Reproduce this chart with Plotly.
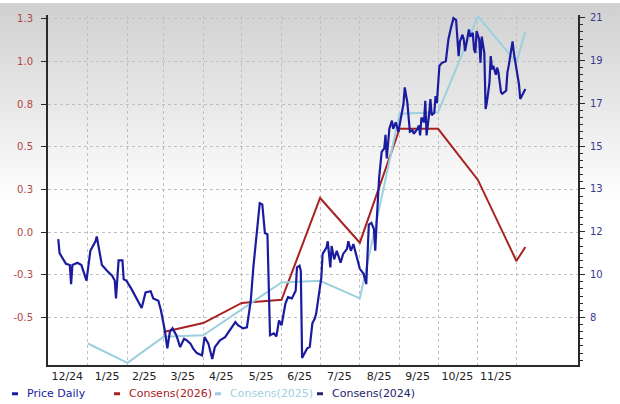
import base64
import plotly.graph_objects as go

# ---------------- data ----------------
price_dates = [
    "2024-12-09", "2024-12-10", "2024-12-15", "2024-12-18", "2024-12-19", "2024-12-20",
    "2024-12-24", "2024-12-27", "2024-12-31",
    "2025-01-03", "2025-01-07", "2025-01-08", "2025-01-10", "2025-01-12", "2025-01-16",
    "2025-01-20", "2025-01-22", "2025-01-23", "2025-01-25", "2025-01-28", "2025-01-29", "2025-01-31",
    "2025-02-04", "2025-02-08", "2025-02-12", "2025-02-15", "2025-02-19", "2025-02-21",
    "2025-02-25", "2025-02-27",
    "2025-03-02", "2025-03-04", "2025-03-06", "2025-03-08", "2025-03-11", "2025-03-14",
    "2025-03-17", "2025-03-19", "2025-03-22", "2025-03-24", "2025-03-27", "2025-03-31",
    "2025-04-02", "2025-04-05", "2025-04-08", "2025-04-10", "2025-04-14", "2025-04-18",
    "2025-04-22", "2025-04-26", "2025-04-28",
    "2025-05-02", "2025-05-05", "2025-05-08", "2025-05-10", "2025-05-12", "2025-05-15",
    "2025-05-17", "2025-05-19", "2025-05-21", "2025-05-23", "2025-05-26", "2025-05-28", "2025-05-30",
    "2025-06-01", "2025-06-04", "2025-06-06", "2025-06-09", "2025-06-12", "2025-06-13",
    "2025-06-15", "2025-06-16", "2025-06-17", "2025-06-21", "2025-06-23", "2025-06-25",
    "2025-06-27", "2025-06-28", "2025-06-30",
    "2025-07-02", "2025-07-03", "2025-07-06", "2025-07-07", "2025-07-09", "2025-07-10",
    "2025-07-12", "2025-07-14", "2025-07-17", "2025-07-19", "2025-07-22", "2025-07-23",
    "2025-07-25", "2025-07-27", "2025-07-30",
    "2025-08-01", "2025-08-04", "2025-08-06", "2025-08-08", "2025-08-10", "2025-08-12",
    "2025-08-13", "2025-08-14", "2025-08-16", "2025-08-18", "2025-08-20", "2025-08-21",
    "2025-08-22", "2025-08-24", "2025-08-26", "2025-08-27", "2025-08-29", "2025-08-31",
    "2025-09-04", "2025-09-05", "2025-09-07", "2025-09-09", "2025-09-11", "2025-09-12",
    "2025-09-15", "2025-09-16", "2025-09-17", "2025-09-18", "2025-09-20", "2025-09-21",
    "2025-09-22", "2025-09-24", "2025-09-25", "2025-09-26", "2025-09-28", "2025-09-29", "2025-09-30",
    "2025-10-02", "2025-10-04", "2025-10-07", "2025-10-08", "2025-10-09", "2025-10-11",
    "2025-10-12", "2025-10-13", "2025-10-15", "2025-10-16", "2025-10-17", "2025-10-18",
    "2025-10-20", "2025-10-21", "2025-10-22", "2025-10-24", "2025-10-25", "2025-10-26",
    "2025-10-28", "2025-10-29", "2025-10-30", "2025-10-31",
    "2025-11-02", "2025-11-03", "2025-11-04", "2025-11-06", "2025-11-07", "2025-11-08",
    "2025-11-10", "2025-11-11", "2025-11-12", "2025-11-13", "2025-11-15", "2025-11-16",
    "2025-11-17", "2025-11-19", "2025-11-20", "2025-11-23", "2025-11-24", "2025-11-25",
    "2025-11-26", "2025-11-28", "2025-11-29", "2025-11-30",
    "2025-12-02", "2025-12-03", "2025-12-04", "2025-12-06", "2025-12-07", "2025-12-08",
]
price_values = [
    11.29, 10.70, 10.25, 10.20, 9.40, 10.20, 10.30, 10.20, 9.55,
    10.80, 11.20, 11.40, 10.80, 10.20, 9.96, 9.75, 9.55, 8.80, 10.40, 10.40, 9.60, 9.55,
    9.20, 8.80, 8.40, 9.05, 9.10, 8.80, 8.70, 8.30,
    7.46, 6.70, 7.40, 7.54, 7.25, 6.75, 7.10, 7.04, 6.90, 6.70, 6.50, 6.40,
    7.17, 6.90, 6.25, 6.75, 7.04, 7.17, 7.46, 7.80, 7.67,
    7.54, 7.58, 8.70, 10.10, 11.20, 12.80, 12.75, 11.55, 11.50, 7.25, 7.33, 7.20, 7.87,
    7.67, 8.58, 8.85, 8.80, 9.12, 10.10, 10.17, 9.96, 6.30, 6.70, 6.76, 7.75, 7.96, 8.17, 8.85,
    9.68, 10.67, 10.93, 11.20, 10.10, 11.00, 10.44, 10.80, 10.30, 10.67, 10.88, 11.20,
    10.80, 11.08, 10.38,
    10.04, 9.83, 9.40, 11.90, 11.97, 11.70, 10.80, 11.90, 13.85, 14.96, 15.10, 15.67,
    14.68, 15.93, 16.27, 15.93, 16.20, 15.80,
    16.97, 17.67, 17.04, 15.80, 15.86, 15.72, 15.93, 16.07, 15.65, 16.40, 16.20, 17.10,
    15.65, 16.55, 17.18, 16.50, 16.60, 17.30, 17.00,
    18.57, 18.70, 18.77, 19.12, 19.68, 20.17, 20.37, 20.58, 20.50, 19.80, 18.98, 19.60,
    19.88, 19.68, 19.19, 19.80, 20.10, 19.80, 19.96, 19.26, 19.12, 20.03,
    19.68, 18.70, 19.80, 19.12, 16.76, 17.04, 17.87, 18.98, 18.42, 18.57, 18.20, 18.50,
    18.30, 17.46, 17.40, 17.53, 18.30, 18.57, 18.98, 19.60, 19.12, 18.77,
    18.00, 17.80, 17.18, 17.40, 17.53, 17.60,
]

cons2026_dates = ["2025-03-01", "2025-04-01", "2025-05-01", "2025-06-01", "2025-07-01",
                  "2025-08-01", "2025-09-01", "2025-10-01", "2025-11-01", "2025-12-01", "2025-12-08"]
cons2026_values = [-0.585, -0.533, -0.415, -0.397, 0.200, -0.062, 0.606, 0.606, 0.306, -0.169, -0.087]

cons2025_dates = ["2025-01-01", "2025-02-01", "2025-03-01", "2025-04-01", "2025-06-01",
                  "2025-07-01", "2025-08-01", "2025-09-01", "2025-10-01", "2025-11-01",
                  "2025-12-01", "2025-12-08"]
cons2025_values = [-0.653, -0.766, -0.614, -0.605, -0.295, -0.285, -0.388, 0.694, 0.703,
                   1.266, 0.994, 1.178]

cons2024_dates = []
cons2024_values = []

month_starts = ["2025-01-01", "2025-02-01", "2025-03-01", "2025-04-01", "2025-05-01", "2025-06-01",
                "2025-07-01", "2025-08-01", "2025-09-01", "2025-10-01", "2025-11-01", "2025-12-01"]
month_label_pos = ["2024-12-16", "2025-01-16", "2025-02-14", "2025-03-16", "2025-04-15", "2025-05-16",
                   "2025-06-15", "2025-07-16", "2025-08-16", "2025-09-15", "2025-10-16", "2025-11-15"]
month_labels = ["12/24", "1/25", "2/25", "3/25", "4/25", "5/25", "6/25", "7/25", "8/25",
                "9/25", "10/25", "11/25"]

eps_tickvals = [-0.5, -0.25, 0.0, 0.25, 0.5, 0.75, 1.0, 1.25]
eps_ticktext = ["-0.5", "-0.3", "0.0", "0.3", "0.5", "0.8", "1.0", "1.3"]
price_tickvals = [8.0, 9.8, 11.6, 13.4, 15.2, 17.0, 18.8, 20.6]
price_ticktext = ["8", "10", "12", "13", "15", "17", "19", "21"]

# ---------------- styles ----------------
C_PRICE = "#1b1ba0"
C_2026 = "#a82222"
C_2025 = "#9cd0de"
C_2024 = "#23236e"
FONT = "DejaVu Sans"
GRID_DASH = "3px,3px"

W, H = 620, 404
ML, MR, MT, MB = 48, 42, 12, 39
PW, PH = W - ML - MR, H - MT - MB

fig = go.Figure()
fig.add_trace(go.Scatter(x=price_dates, y=price_values, name="Price Daily", mode="lines",
                         line=dict(color=C_PRICE, width=2.2), yaxis="y2", showlegend=False))
fig.add_trace(go.Scatter(x=cons2026_dates, y=cons2026_values, name="Consens(2026)", mode="lines",
                         line=dict(color=C_2026, width=2), showlegend=False))
fig.add_trace(go.Scatter(x=cons2025_dates, y=cons2025_values, name="Consens(2025)", mode="lines",
                         line=dict(color=C_2025, width=2), showlegend=False))
fig.add_trace(go.Scatter(x=cons2024_dates, y=cons2024_values, name="Consens(2024)", mode="lines",
                         line=dict(color=C_2024, width=2), showlegend=False))

# background gradient
svg = ('<svg xmlns="http://www.w3.org/2000/svg" width="620" height="404">'
       '<defs><linearGradient id="g" x1="0" y1="0" x2="0" y2="1">'
       '<stop offset="0" stop-color="#d0d0d0"/><stop offset="0.5" stop-color="#ffffff"/>'
       '</linearGradient></defs><rect width="620" height="404" fill="url(#g)"/></svg>')
src = "data:image/svg+xml;base64," + base64.b64encode(svg.encode()).decode()

fig.update_layout(
    width=W, height=H,
    margin=dict(l=ML, r=MR, t=MT, b=MB),
    paper_bgcolor="white", plot_bgcolor="rgba(0,0,0,0)",
    font=dict(family=FONT, size=11, color="#222222"),
    images=[dict(source=src, xref="paper", yref="paper", x=-ML / PW, y=1 + MT / PH,
                 sizex=W / PW, sizey=H / PH, xanchor="left", yanchor="top",
                 sizing="stretch", layer="below")],
    xaxis=dict(
        type="date", range=["2024-12-01", "2026-01-18"],
        tickmode="array", tickvals=month_label_pos, ticktext=month_labels,
        ticks="", showgrid=False, zeroline=False,
        showline=True, linecolor="#2a2a2a", linewidth=2,
        tickfont=dict(size=11, color="#222222"),
        minor=dict(tickmode="array", tickvals=month_starts, showgrid=True,
                   gridcolor="#c0c0c0", griddash=GRID_DASH, gridwidth=1, ticks=""),
    ),
    yaxis=dict(
        range=[-0.779, 1.273], tickmode="array", tickvals=eps_tickvals, ticktext=eps_ticktext,
        showgrid=True, gridcolor="#c0c0c0", griddash=GRID_DASH, gridwidth=1, zeroline=False,
        showline=True, linecolor="#2a2a2a", linewidth=2,
        ticks="outside", ticklen=5, tickcolor="#2a2a2a", tickwidth=1,
        ticklabelstandoff=6,
        tickfont=dict(size=10, color="#b04848"),
    ),
    yaxis2=dict(
        range=[6.0, 20.71], overlaying="y", side="right",
        tickmode="array", tickvals=price_tickvals, ticktext=price_ticktext,
        showgrid=False, zeroline=False,
        showline=True, linecolor="#2a2a2a", linewidth=2,
        ticks="outside", ticklen=5, tickcolor="#2a2a2a", tickwidth=1,
        ticklabelstandoff=3,
        tickfont=dict(size=10, color="#3a3a8c"),
        minor=dict(dtick=0.3, tick0=8.0, ticks="outside", ticklen=3,
                   tickcolor="#2a2a2a", showgrid=False),
    ),
)

# legend (drawn as text + short dashes)
legend_items = [("Price Daily", C_PRICE, 12), ("Consens(2026)", C_2026, 114),
                ("Consens(2025)", C_2025, 215), ("Consens(2024)", C_2024, 317)]
ly = 394
for name, col, px in legend_items:
    fig.add_shape(type="line", xref="paper", yref="paper",
                  x0=(px - ML) / PW, x1=(px + 6 - ML) / PW,
                  y0=(H - MB - ly) / PH, y1=(H - MB - ly) / PH,
                  line=dict(color=col, width=3))
    fig.add_annotation(text=name, xref="paper", yref="paper",
                       x=(px + 13 - ML) / PW, y=(H - MB - ly) / PH,
                       xanchor="left", yanchor="middle", showarrow=False,
                       font=dict(family=FONT, size=11, color=col))

fig.write_html("out.html", config={"displayModeBar": False},
               post_script="document.body.style.margin='0';")
